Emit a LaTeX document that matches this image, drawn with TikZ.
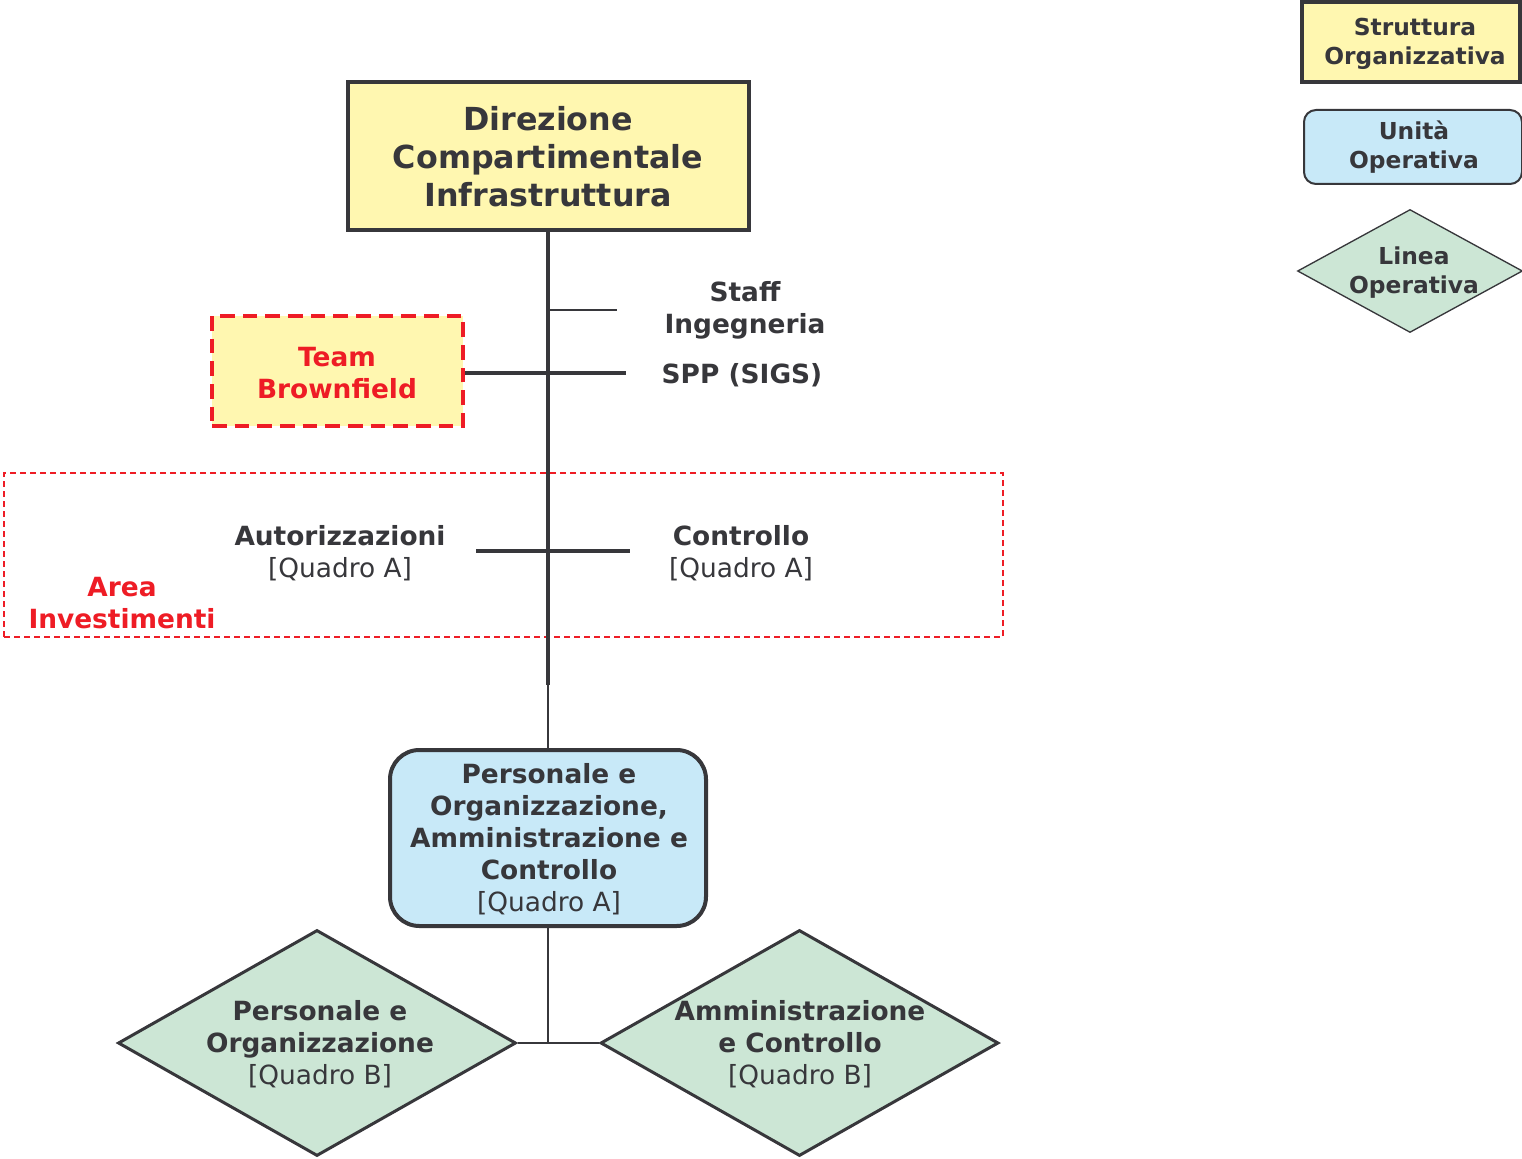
\documentclass[tikz,border=0pt]{standalone}
\usepackage{fontspec}
\setmainfont{DejaVu Sans}
\usetikzlibrary{shapes.geometric}
\definecolor{ink}{HTML}{37373B}
\definecolor{yel}{HTML}{FFF7B0}
\definecolor{blu}{HTML}{C8E9F8}
\definecolor{grn}{HTML}{CCE6D5}
\definecolor{redx}{HTML}{EE1C25}
\begin{document}
\begin{tikzpicture}[x=0.75pt,y=-0.75pt,
  txt/.style={text=ink, align=center, inner sep=0pt, font=\bfseries\fontsize{19.8}{24}\selectfont},
  bigtxt/.style={txt, font=\bfseries\fontsize{23.8}{28.5}\selectfont},
  legtxt/.style={txt, font=\bfseries\fontsize{17.5}{21.75}\selectfont},
  redtxt/.style={txt, text=redx},
  orgbox/.style={draw=ink, fill=yel, line width=3pt, inner sep=0pt},
  unitbox/.style={draw=ink, fill=blu, inner sep=0pt},
  linebox/.style={diamond, draw=ink, fill=grn, inner sep=0pt},
  thick line/.style={draw=ink, line width=3pt},
  thin line/.style={draw=ink, line width=1pt},
]
\useasboundingbox (0,0) rectangle (1522,1159);

% legend
\node[orgbox, minimum width=163.5pt, minimum height=60pt] (lg1) at (1411,42) {};
\node[legtxt] at (1415,44) {Struttura\\Organizzativa};
\node[unitbox, line width=1.5pt, rounded corners=9pt, minimum width=163.5pt, minimum height=55.5pt] (lg2) at (1413,147) {};
\node[legtxt] at (1414,147) {Unità\\Operativa};
\node[linebox, line width=1pt, minimum width=168.75pt, minimum height=92.25pt] (lg3) at (1410,271) {};
\node[legtxt] at (1414,273) {Linea\\Operativa};

% area investimenti
\node[draw=redx, line width=1.5pt, dash pattern=on 4.5pt off 3pt, minimum width=749.25pt, minimum height=123pt, inner sep=0pt] (area) at (503.5,555) {};
\node[redtxt] at (122,603) {Area\\Investimenti};

% main box
\node[orgbox, minimum width=300.75pt, minimum height=111pt] (main) at (548,156) {};
\node[bigtxt] at (548,157) {Direzione\\Compartimentale\\Infrastruttura};

% team brownfield
\node[draw=redx, fill=yel, line width=3pt, dash pattern=on 11pt off 6pt, minimum width=188.25pt, minimum height=82.5pt, inner sep=0pt] (team) at (337.5,371) {};
\node[redtxt] at (337,373) {Team\\Brownfield};

% spine
\coordinate (spineend) at (548,685);
\coordinate (staffA) at (548,310);
\coordinate (staffB) at (617,310);
\coordinate (sppB) at (626,373);
\coordinate (autA) at (476,551);
\coordinate (autB) at (630,551);
\draw[thick line] (main.south) -- (spineend);
\draw[draw=ink, line width=1.5pt] (staffA) -- (staffB);
\draw[thick line] (team.east |- sppB) -- (sppB);
\draw[thick line] (autA) -- (autB);

\node[txt] at (745,310) {Staff\\Ingegneria};
\node[txt] at (742,375) {SPP (SIGS)};
\node[txt] at (340,553) {Autorizzazioni\\\mdseries[Quadro A]};
\node[txt] at (741,553) {Controllo\\\mdseries[Quadro A]};

% unit box
\node[unitbox, line width=3pt, rounded corners=22pt, minimum width=237pt, minimum height=132pt] (unit) at (548,838) {};
\node[txt] at (549,839) {Personale e\\Organizzazione,\\Amministrazione e\\Controllo\\\mdseries[Quadro A]};
\draw[thin line] (spineend) -- (unit.north);

% linee operative
\node[linebox, line width=2.25pt, minimum width=298.5pt, minimum height=169.5pt] (d1) at (317,1043) {};
\node[txt] at (320,1044) {Personale e\\Organizzazione\\\mdseries[Quadro B]};
\node[linebox, line width=2.25pt, minimum width=298.5pt, minimum height=169.5pt] (d2) at (799.5,1043) {};
\node[txt] at (800,1044) {Amministrazione\\e Controllo\\\mdseries[Quadro B]};
\coordinate (fork) at (548,1043);
\draw[thin line] (unit.south) -- (fork);
\draw[thin line] (d1.east) -- (d2.west);
\end{tikzpicture}
\end{document}
